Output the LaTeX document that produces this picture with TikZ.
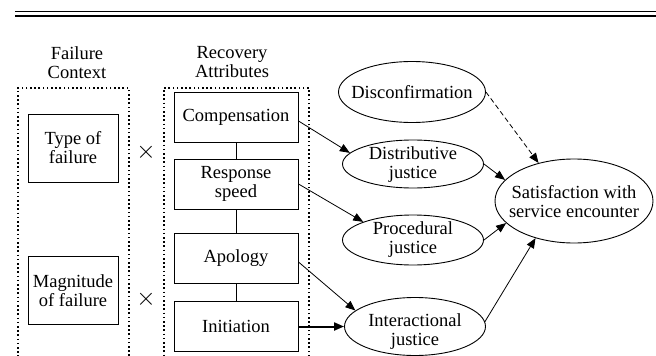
\documentclass[tikz,border=0pt]{standalone}
\usepackage{fontspec}
\setmainfont{Liberation Serif}
\usetikzlibrary{shapes.geometric,arrows.meta}
\begin{document}
\begin{tikzpicture}[x=1pt,y=-1pt,
  every node/.style={font=\fontsize{18.5}{19}\selectfont, inner sep=0pt},
  rbox/.style={draw, line width=1pt, minimum width=124pt, minimum height=50pt, align=center},
  cbox/.style={draw, line width=1pt, minimum width=90pt, minimum height=68pt, align=center},
  ell/.style={draw, ellipse, line width=0.9pt, inner sep=0pt},
  dotbox/.style={draw, line width=1.6pt, dash pattern=on 1.6pt off 2.6pt, anchor=north west, minimum height=300pt},
  arr/.style={-{Triangle[length=10pt,width=8pt]}, line width=0.8pt},
  hdr/.style={align=center},
  mult/.style={font=\fontsize{34}{34}\selectfont},
]
\useasboundingbox (0,0) rectangle (656,356);
\clip (0,0) rectangle (656,356);
\fill[white] (0,0) rectangle (656,356);

% top double rule
\draw[line width=1.1pt] (15,11.5) -- (656,11.5);
\draw[line width=1.8pt] (15,15.8) -- (656,15.8);

% headers
\node[hdr] (hF) at (77,62.5) {Failure\\Context};
\node[hdr] (hR) at (232,62.5) {Recovery\\Attributes};

% dotted group boxes
\node[dotbox, minimum width=111pt] (ctx) at (17,87) {};
\node[dotbox, minimum width=145pt] (rec) at (163,87) {};

% failure context boxes
\node[cbox] (type) at (73,148) {Type of\\failure};
\node[cbox] (mag) at (73,290.5) {Magnitude\\of failure};
\node[mult] (x1) at (146,152) {$\times$};
\node[mult] (x2) at (146,299) {$\times$};

% recovery attribute boxes
\node[rbox] (comp) at (236,117) {Compensation};
\node[rbox] (resp) at (236,184) {Response\\speed};
\node[rbox] (apol) at (236,258) {Apology};
\node[rbox] (init) at (236,326.5) {Initiation};
\draw[line width=0.9pt] (comp) -- (resp);
\draw[line width=0.9pt] (resp) -- (apol);
\draw[line width=0.9pt] (apol) -- (init);

% ellipses
\node[ell, minimum width=147pt, minimum height=61pt, label={[align=center]center:Disconfirmation}] (disc) at (412,92) {};
\node[ell, minimum width=141pt, minimum height=48pt, label={[align=center, yshift=-1pt]center:Distributive\\justice}] (dist) at (413,164) {};
\node[ell, minimum width=141pt, minimum height=50pt, label={[align=center]center:Procedural\\justice}] (proc) at (413,240) {};
\node[ell, minimum width=141pt, minimum height=58pt, label={[align=center, yshift=-5pt]center:Interactional\\justice}] (inter) at (415,326.5) {};
\node[ell, minimum width=158pt, minimum height=84pt, label={[align=center, yshift=-1pt]center:Satisfaction with\\service encounter}] (sat) at (574,201) {};

% arrows
\draw[arr] ([yshift=-4pt]comp.east) -- (dist.170);
\draw[arr] (resp.east) -- (proc.160);
\draw[arr] ([yshift=-4pt]apol.east) -- (inter.165);
\draw[arr, line width=2pt, -{Triangle[length=10pt,width=8pt]}] (init.east) -- (inter.west);
\draw[arr] (dist.east) -- (sat.163);
\draw[arr] (proc.east) -- (sat.198);
\draw[arr] (inter.4) -- (sat.224);
\draw[arr, dashed, dash pattern=on 5pt off 3pt] (disc.east) -- (sat.133);
\end{tikzpicture}
\end{document}
